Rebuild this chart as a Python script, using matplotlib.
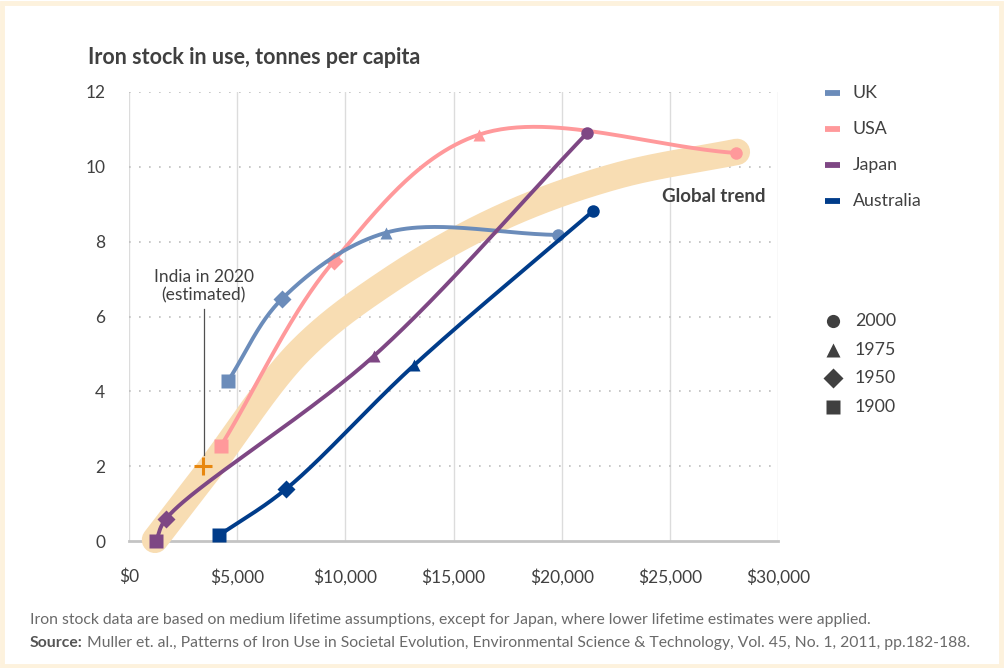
import numpy as np
import matplotlib
matplotlib.use("Agg")
import matplotlib.pyplot as plt
from matplotlib.lines import Line2D
from matplotlib.patches import Rectangle

# ---- data: GDP per capita (USD) vs iron stock in use (t per capita) ----
years = [1900, 1950, 1975, 2000]
uk_gdp = [4580, 7070, 11880, 19830]
uk_iron = [4.28, 6.47, 8.24, 8.18]
usa_gdp = [4250, 9480, 16180, 28060]
usa_iron = [2.54, 7.49, 10.86, 10.37]
japan_gdp = [1250, 1710, 11330, 21170]
japan_iron = [0.0, 0.59, 4.95, 10.90]
aus_gdp = [4160, 7260, 13180, 21450]
aus_iron = [0.15, 1.39, 4.70, 8.82]
india_gdp = [3420]
india_iron = [2.0]
trend_gdp = [1200, 3700, 7900, 12060, 17150, 22500, 28100]
trend_iron = [0.03, 1.90, 5.08, 6.97, 8.63, 9.75, 10.40]

x_ticks = [0, 5000, 10000, 15000, 20000, 25000, 30000]
x_labels = ["$0", "$5,000", "$10,000", "$15,000", "$20,000", "$25,000", "$30,000"]
y_ticks = [0, 2, 4, 6, 8, 10, 12]

countries = ["UK", "USA", "Japan", "Australia"]
colors = {"UK": "#6b8cba", "USA": "#ff999b", "Japan": "#7e4784", "Australia": "#003c8a"}
year_markers = {2000: "o", 1975: "^", 1950: "D", 1900: "s"}
marker_sizes = {2000: 9, 1975: 9, 1950: 9, 1900: 9.5}

TEXT = "#404040"
FONT = "Lato"
W, H = 1005, 668
XMAX, YMAX = 30000, 12
AX_W_PX, AX_H_PX = 649, 449


def catmull_rom(xs, ys, n=60):
    """Centripetal Catmull-Rom curve through the points, in screen-like units."""
    sx, sy = AX_W_PX / XMAX, AX_H_PX / YMAX
    P = np.column_stack([np.asarray(xs, float) * sx, np.asarray(ys, float) * sy])
    P = np.vstack([2 * P[0] - P[1], P, 2 * P[-1] - P[-2]])
    out = []
    for i in range(1, len(P) - 2):
        p0, p1, p2, p3 = P[i - 1], P[i], P[i + 1], P[i + 2]
        t0 = 0.0
        t1 = t0 + np.linalg.norm(p1 - p0) ** 0.5
        t2 = t1 + np.linalg.norm(p2 - p1) ** 0.5
        t3 = t2 + np.linalg.norm(p3 - p2) ** 0.5
        t = np.linspace(t1, t2, n)[:, None]
        a1 = (t1 - t) / (t1 - t0) * p0 + (t - t0) / (t1 - t0) * p1
        a2 = (t2 - t) / (t2 - t1) * p1 + (t - t1) / (t2 - t1) * p2
        a3 = (t3 - t) / (t3 - t2) * p2 + (t - t2) / (t3 - t2) * p3
        b1 = (t2 - t) / (t2 - t0) * a1 + (t - t0) / (t2 - t0) * a2
        b2 = (t3 - t) / (t3 - t1) * a2 + (t - t1) / (t3 - t1) * a3
        c = (t2 - t) / (t2 - t1) * b1 + (t - t1) / (t2 - t1) * b2
        out.append(c if i == len(P) - 3 else c[:-1])
    C = np.vstack(out)
    return C[:, 0] / sx, C[:, 1] / sy


fig = plt.figure(figsize=(W / 100, H / 100), dpi=100)
fig.patch.set_facecolor("white")
fig.add_artist(Rectangle((0.002, 0.003), 0.994, 0.992, transform=fig.transFigure,
                         fill=False, edgecolor="#fdf2dd", linewidth=3.5))

ax = fig.add_axes([129 / W, 1 - 541 / H, AX_W_PX / W, AX_H_PX / H])
ax.set_xlim(0, XMAX)
ax.set_ylim(0, YMAX)
for s in ["top", "right", "left"]:
    ax.spines[s].set_visible(False)
ax.spines["bottom"].set_color("#c4c4c4")
ax.spines["bottom"].set_linewidth(2)
ax.spines["bottom"].set_zorder(1)

# grid: solid vertical lines, dotted horizontal lines
for xv in x_ticks:
    ax.axvline(xv, color="#dcdcdc", lw=1, zorder=0)
for yv in y_ticks[1:]:
    ax.axhline(yv, color="#bdbdbd", lw=1.2, ls=(0, (1, 5)), zorder=0)

ax.set_xticks(x_ticks)
ax.set_xticklabels(x_labels)
ax.set_yticks(y_ticks)
ax.tick_params(length=0, labelsize=12.5, labelcolor=TEXT)
ax.tick_params(axis="x", pad=20)
ax.tick_params(axis="y", pad=17)
for lab in ax.get_xticklabels() + ax.get_yticklabels():
    lab.set_fontfamily(FONT)

# global trend band
tx, ty = catmull_rom(trend_gdp, trend_iron)
ax.plot(tx, ty, color="#f8ddb3", lw=19, solid_capstyle="round", zorder=2, clip_on=False)
ax.text(29400, 9.22, "Global trend", fontsize=13.5, fontweight="bold", color=TEXT,
        ha="right", va="center", family=FONT)

# country series
series = {
    "UK": (uk_gdp, uk_iron),
    "USA": (usa_gdp, usa_iron),
    "Japan": (japan_gdp, japan_iron),
    "Australia": (aus_gdp, aus_iron),
}
z = {"UK": 4, "USA": 3, "Japan": 5, "Australia": 6}
for name in countries:
    gx, gy = series[name]
    cx, cy = catmull_rom(gx, gy)
    ax.plot(cx, cy, color=colors[name], lw=2.8, zorder=z[name], solid_capstyle="round")
    for yr, xv, yv in zip(years, gx, gy):
        ax.plot([xv], [yv], marker=year_markers[yr], ms=marker_sizes[yr], color=colors[name],
                mec="none", zorder=z[name], clip_on=False)

# India estimate
ax.plot(india_gdp, india_iron, marker="+", ms=13, mew=2.2, color="#e8870e", zorder=7, ls="none")
ax.plot([india_gdp[0] + 30, india_gdp[0] + 30], [india_iron[0] + 0.3, 6.2], color="#505050",
        lw=0.9, zorder=7)
ax.text(india_gdp[0] + 30, 6.35, "India in 2020\n(estimated)", ha="center", va="bottom",
        fontsize=12.5, color=TEXT, family=FONT, linespacing=1.15)

# title
fig.text(88 / W, 1 - 57 / H, "Iron stock in use, tonnes per capita", fontsize=15.5,
         fontweight="bold", color=TEXT, family=FONT, va="center", ha="left")

# country legend
for i, name in enumerate(countries):
    yy = 1 - (93 + 36 * i) / H
    fig.add_artist(Line2D([825 / W, 840 / W], [yy, yy], transform=fig.transFigure,
                          color=colors[name], lw=4.2, solid_capstyle="butt"))
    fig.text(853 / W, yy, name, fontsize=12.8, color=TEXT, family=FONT, va="center", ha="left")

# year marker legend
for i, yr in enumerate(years[::-1]):
    yy = 1 - (321 + 28.7 * i) / H
    fig.add_artist(Line2D([833 / W], [yy], transform=fig.transFigure, marker=year_markers[yr],
                          ms=9.5 if yr != 1950 else 10, color="#404040", mec="none", ls="none"))
    fig.text(855 / W, yy, str(yr), fontsize=12.8, color=TEXT, family=FONT, va="center", ha="left")

# footnotes
fig.text(30 / W, 1 - 620 / H,
         "Iron stock data are based on medium lifetime assumptions, except for Japan, "
         "where lower lifetime estimates were applied.",
         fontsize=11.3, color="#6a6a6a", family=FONT, va="center", ha="left")
src = fig.text(30 / W, 1 - 643 / H, "Source:", fontsize=11.3, color="#555555", family=FONT,
               fontweight="bold", va="center", ha="left")
fig.canvas.draw()
bb = src.get_window_extent()
fig.text((bb.x1 + 4) / W, 1 - 643 / H,
         "Muller et. al., Patterns of Iron Use in Societal Evolution, Environmental Science & "
         "Technology, Vol. 45, No. 1, 2011, pp.182-188.",
         fontsize=11.3, color="#6a6a6a", family=FONT, va="center", ha="left")

fig.savefig("out.png", dpi=100, facecolor="white")
